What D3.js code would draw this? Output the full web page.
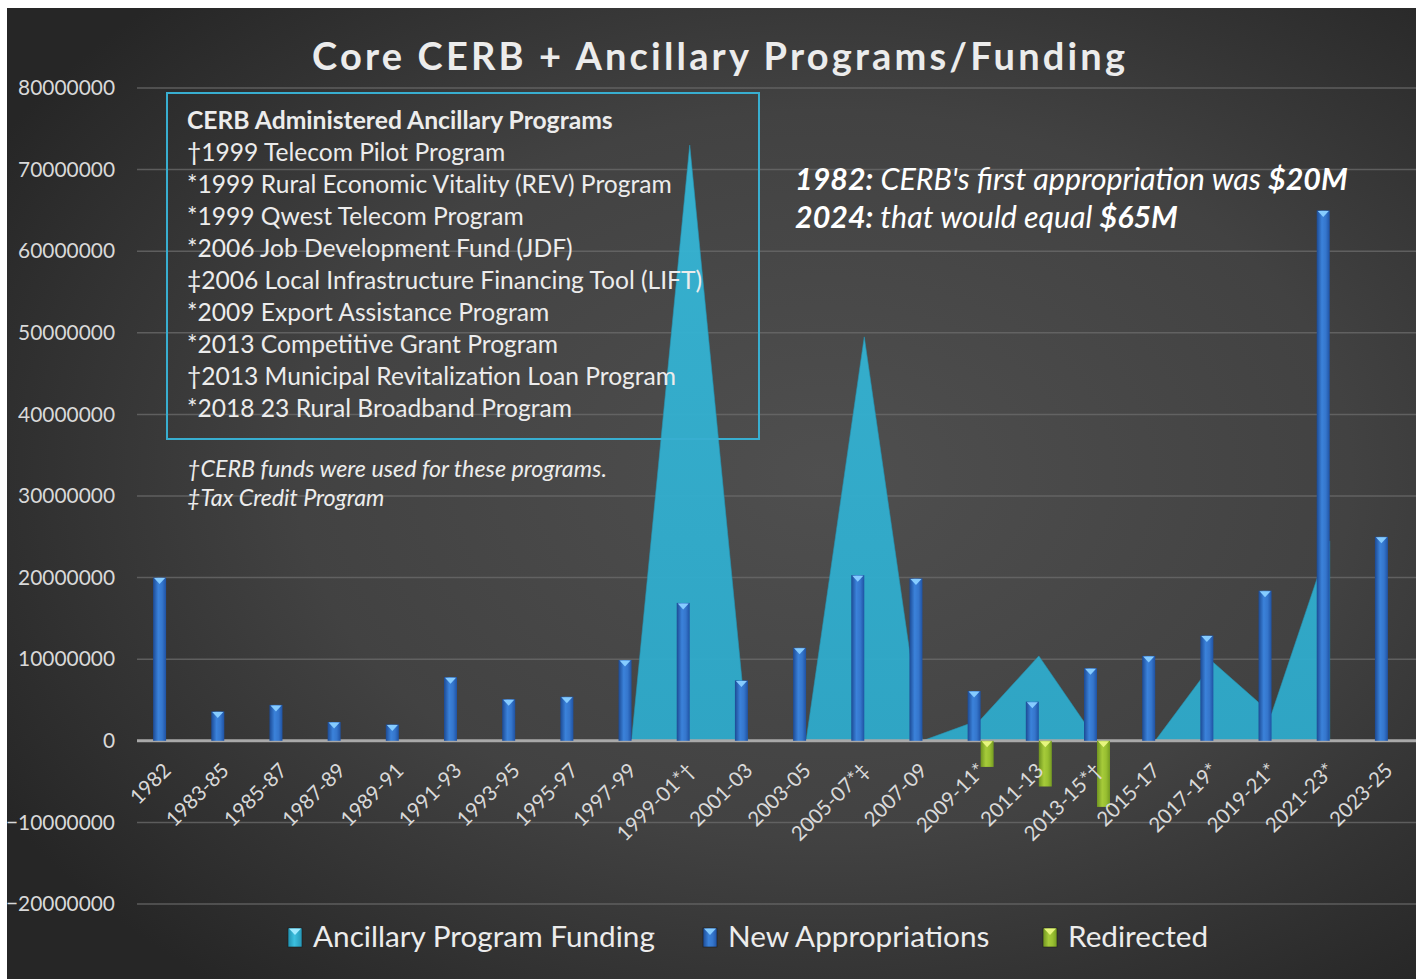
<!DOCTYPE html>
<html>
<head>
<meta charset="utf-8">
<script src="https://cdn.jsdelivr.net/npm/d3@7"></script>
<style>
  html, body { margin: 0; padding: 0; background: #fff; }
  svg { display: block; }
</style>
</head>
<body>
<div id="chart"></div>
<script>
// Data
const CATEGORIES = ["1982", "1983-85", "1985-87", "1987-89", "1989-91", "1991-93", "1993-95",
  "1995-97", "1997-99", "1999-01*\u2020", "2001-03", "2003-05", "2005-07*\u2021", "2007-09",
  "2009-11*", "2011-13", "2013-15*\u2020", "2015-17", "2017-19*", "2019-21*", "2021-23*", "2023-25"];
const NEW_APPROPRIATIONS = [20000000, 3600000, 4400000, 2300000, 2000000, 7800000, 5100000,
  5400000, 9900000, 16900000, 7400000, 11400000, 20300000, 19900000,
  6100000, 4800000, 8900000, 10400000, 12900000, 18400000, 65000000, 25000000];
const ANCILLARY_FUNDING = [null, null, null, null, null, null, null,
  null, 0, 73000000, 0, 0, 49500000, 0,
  2600000, 10400000, 0, 0, 9600000, 3300000, 24500000, null];
const REDIRECTED = [null, null, null, null, null, null, null,
  null, null, null, null, null, null, null,
  -3200000, -5600000, -8100000, null, null, null, null, null];
const Y_TICKS = [-20000000, -10000000, 0, 10000000, 20000000, 30000000, 40000000, 50000000,
  60000000, 70000000, 80000000];
const SERIES_NAMES = ["Ancillary Program Funding", "New Appropriations", "Redirected"];

const TITLE = "Core CERB + Ancillary Programs/Funding";
const BOX_TITLE = "CERB Administered Ancillary Programs";
const BOX_LINES = [
  "\u20201999 Telecom Pilot Program",
  "*1999 Rural Economic Vitality (REV) Program",
  "*1999 Qwest Telecom Program",
  "*2006 Job Development Fund (JDF)",
  "\u20212006 Local Infrastructure Financing Tool (LIFT)",
  "*2009 Export Assistance Program",
  "*2013 Competitive Grant Program",
  "\u20202013 Municipal Revitalization Loan Program",
  "*2018 23 Rural Broadband Program"
];
const FOOTNOTES = ["\u2020CERB funds were used for these programs.", "\u2021Tax Credit Program"];
const NOTE_LINES = [
  [["1982:", true], [" CERB's first appropriation was ", false], ["$20M", true]],
  [["2024:", true], [" that would equal ", false], ["$65M", true]]
];

// Colors
const C = {
  text: "#ececec",
  axisText: "#d9d9d9",
  grid: "#6c6c6c",
  zero: "#a9a9a9",
  box: "#38aed0",
  areaEdge: "#2496b6"
};
const FONT = "Lato, 'Open Sans', sans-serif";

// Dimensions
const W = 1416, H = 979;
const plot = { left: 137, right: 1417, top: 88, bottom: 904 };

const svg = d3.select("#chart").append("svg")
  .attr("width", W).attr("height", H);

const defs = svg.append("defs");

// Background gradient
const bg = defs.append("radialGradient").attr("id", "bg")
  .attr("cx", "58%").attr("cy", "48%").attr("r", "68%");
bg.append("stop").attr("offset", "0%").attr("stop-color", "#4f4f4f");
bg.append("stop").attr("offset", "55%").attr("stop-color", "#424242");
bg.append("stop").attr("offset", "100%").attr("stop-color", "#262626");

function barGradient(id, stops) {
  const g = defs.append("linearGradient").attr("id", id)
    .attr("x1", "0%").attr("x2", "100%").attr("y1", "0%").attr("y2", "0%");
  stops.forEach(s => g.append("stop").attr("offset", s[0]).attr("stop-color", s[1]));
}
barGradient("blueBar", [["0%", "#1c4a94"], ["40%", "#3b82da"], ["70%", "#3576cc"], ["100%", "#1f52a3"]]);
barGradient("greenBar", [["0%", "#6f9420"], ["40%", "#a6cb3a"], ["70%", "#98bf31"], ["100%", "#759b22"]]);
barGradient("cyanMark", [["0%", "#1f8fae"], ["45%", "#3cc0df"], ["100%", "#2596b6"]]);

const areaGrad = defs.append("linearGradient").attr("id", "areaFill")
  .attr("x1", "0%").attr("x2", "0%").attr("y1", "0%").attr("y2", "100%");
areaGrad.append("stop").attr("offset", "0%").attr("stop-color", "#36b6d6");
areaGrad.append("stop").attr("offset", "100%").attr("stop-color", "#2eaacb");

svg.append("rect")
  .attr("x", 7).attr("y", 8).attr("width", W - 7).attr("height", H - 8)
  .attr("fill", "url(#bg)");

// Text measuring helper: scale a font size so a string gets a target width
function fitSize(str, target, base, weight, style) {
  const t = svg.append("text")
    .style("font-family", FONT)
    .style("font-size", base + "px")
    .style("font-weight", weight || "normal")
    .style("font-style", style || "normal")
    .text(str);
  const w = t.node().getComputedTextLength();
  t.remove();
  return base * target / w;
}

// Scales
const x = d3.scaleBand().domain(CATEGORIES).range([plot.left, plot.right]);
const y = d3.scaleLinear().domain([-20000000, 80000000]).range([plot.bottom, plot.top]);
const barW = 13;
const cx = d => x(d) + x.bandwidth() / 2;

// Gridlines
svg.append("g").selectAll("line")
  .data(Y_TICKS.filter(v => v !== 0))
  .enter().append("line")
  .attr("x1", plot.left).attr("x2", plot.right)
  .attr("y1", d => y(d)).attr("y2", d => y(d))
  .attr("stroke", C.grid).attr("stroke-width", 1.5).attr("opacity", 0.75);

// Y axis labels
const yFont = fitSize("80000000", 97, 22);
const yAxis = svg.append("g")
  .attr("transform", `translate(${plot.left},0)`)
  .call(d3.axisLeft(y).tickValues(Y_TICKS).tickFormat(d3.format("d")).tickSize(0).tickPadding(22));
yAxis.select(".domain").remove();
yAxis.selectAll("text")
  .style("font-family", FONT)
  .style("font-size", yFont + "px")
  .attr("fill", C.axisText);

// Area series
const areaData = CATEGORIES.map((c, i) => ({ cat: c, v: ANCILLARY_FUNDING[i] }));
const area = d3.area()
  .defined(d => d.v !== null)
  .x(d => cx(d.cat))
  .y0(y(0))
  .y1(d => y(d.v));
svg.append("path")
  .datum(areaData)
  .attr("d", area)
  .attr("fill", "url(#areaFill)")
  .attr("fill-opacity", 0.95)
  .attr("stroke", C.areaEdge)
  .attr("stroke-width", 1)
  .attr("stroke-opacity", 0.6);

// Zero line
svg.append("line")
  .attr("x1", plot.left).attr("x2", plot.right)
  .attr("y1", y(0)).attr("y2", y(0))
  .attr("stroke", C.zero).attr("stroke-width", 3);

// Bars
function drawBars(values, offset, fill, capColor, cls) {
  const data = CATEGORIES.map((c, i) => ({ cat: c, v: values[i] })).filter(d => d.v !== null);
  const g = svg.append("g").attr("class", cls);
  g.selectAll("rect")
    .data(data)
    .enter().append("rect")
    .attr("x", d => cx(d.cat) + offset)
    .attr("y", d => Math.min(y(d.v), y(0)))
    .attr("width", barW)
    .attr("height", d => Math.abs(y(d.v) - y(0)))
    .attr("fill", fill);
  // bevel cap at the top of each bar
  g.selectAll("polygon")
    .data(data)
    .enter().append("polygon")
    .attr("points", d => {
      const x0 = cx(d.cat) + offset, top = Math.min(y(d.v), y(0)) + 0.5;
      return `${x0 + 1},${top} ${x0 + barW - 1},${top} ${x0 + barW / 2},${top + 6}`;
    })
    .attr("fill", capColor);
}
drawBars(NEW_APPROPRIATIONS, -barW, "url(#blueBar)", "#86ccff", "bars-new");
drawBars(REDIRECTED, 0, "url(#greenBar)", "#e6f57e", "bars-redirected");

// X labels
const xFont = fitSize("1983-85", 79, 21);
svg.append("g").selectAll("text")
  .data(CATEGORIES)
  .enter().append("text")
  .attr("transform", d => `translate(${cx(d) + 6},${y(0) + 31}) rotate(-45)`)
  .attr("text-anchor", "end")
  .style("font-family", FONT)
  .style("font-size", xFont + "px")
  .attr("fill", C.axisText)
  .text(d => d);

// Title with letter spacing stretched to the reference width
const titleSize = 38;
const titleNatural = fitSize(TITLE, 1, titleSize, "bold");
const titleWidth = titleSize / titleNatural;
const titleSpacing = (813 - titleWidth) / (TITLE.length - 1);
svg.append("text")
  .attr("x", 312).attr("y", 70)
  .style("font-family", FONT)
  .style("font-size", titleSize + "px")
  .style("font-weight", "bold")
  .style("letter-spacing", titleSpacing + "px")
  .attr("fill", C.text)
  .text(TITLE);

// Programs box
svg.append("rect")
  .attr("x", 167).attr("y", 93).attr("width", 592).attr("height", 346)
  .attr("fill", "none").attr("stroke", C.box).attr("stroke-width", 2);

const boxFont = fitSize(BOX_LINES[1], 485, 23);
svg.append("text")
  .attr("x", 187).attr("y", 120).attr("dy", "0.35em")
  .style("font-family", FONT)
  .style("font-size", fitSize(BOX_TITLE, 426, 23, "bold") + "px")
  .style("font-weight", "bold")
  .attr("fill", C.text)
  .text(BOX_TITLE);
svg.append("g").selectAll("text")
  .data(BOX_LINES)
  .enter().append("text")
  .attr("x", 187).attr("y", (d, i) => 152 + i * 32).attr("dy", "0.35em")
  .style("font-family", FONT)
  .style("font-size", boxFont + "px")
  .attr("fill", C.text)
  .text(d => d);

// Footnotes
const footFont = fitSize(FOOTNOTES[0], 420, 21, "normal", "italic");
svg.append("g").selectAll("text")
  .data(FOOTNOTES)
  .enter().append("text")
  .attr("x", 187).attr("y", (d, i) => 469 + i * 29).attr("dy", "0.35em")
  .style("font-family", FONT)
  .style("font-size", footFont + "px")
  .style("font-style", "italic")
  .attr("fill", C.text)
  .text(d => d);

// Annotation
const noteText = svg.append("g");
NOTE_LINES.forEach((parts, i) => {
  const t = noteText.append("text")
    .attr("x", 795).attr("y", 179 + i * 38).attr("dy", "0.35em")
    .style("font-family", FONT)
    .style("font-size", "28px")
    .style("font-style", "italic")
    .attr("fill", "#ffffff");
  parts.forEach(p => t.append("tspan").style("font-weight", p[1] ? "bold" : "normal").text(p[0]));
});
// scale annotation to reference width (first line ~553px)
const noteW = noteText.select("text").node().getComputedTextLength();
noteText.selectAll("text").style("font-size", (28 * 553 / noteW) + "px");

// Legend
const legendFont = fitSize(SERIES_NAMES[0], 342, 28);
const legendFills = ["url(#cyanMark)", "url(#blueBar)", "url(#greenBar)"];
const legendCaps = ["#9eeaff", "#86ccff", "#e6f57e"];
const legendX = [288, 703, 1043];
const legend = svg.append("g");
SERIES_NAMES.forEach((name, i) => {
  const g = legend.append("g").attr("transform", `translate(${legendX[i]},937)`);
  g.append("rect").attr("x", 0).attr("y", -9).attr("width", 14).attr("height", 19)
    .attr("fill", legendFills[i]).attr("stroke", "#1c1c1c").attr("stroke-width", 0.6);
  g.append("polygon").attr("points", "1,-8.5 13,-8.5 7,-2").attr("fill", legendCaps[i]);
  g.append("text").attr("x", 25).attr("y", 0).attr("dy", "0.35em")
    .style("font-family", FONT)
    .style("font-size", legendFont + "px")
    .attr("fill", C.text)
    .text(name);
});
</script>
</body>
</html>
